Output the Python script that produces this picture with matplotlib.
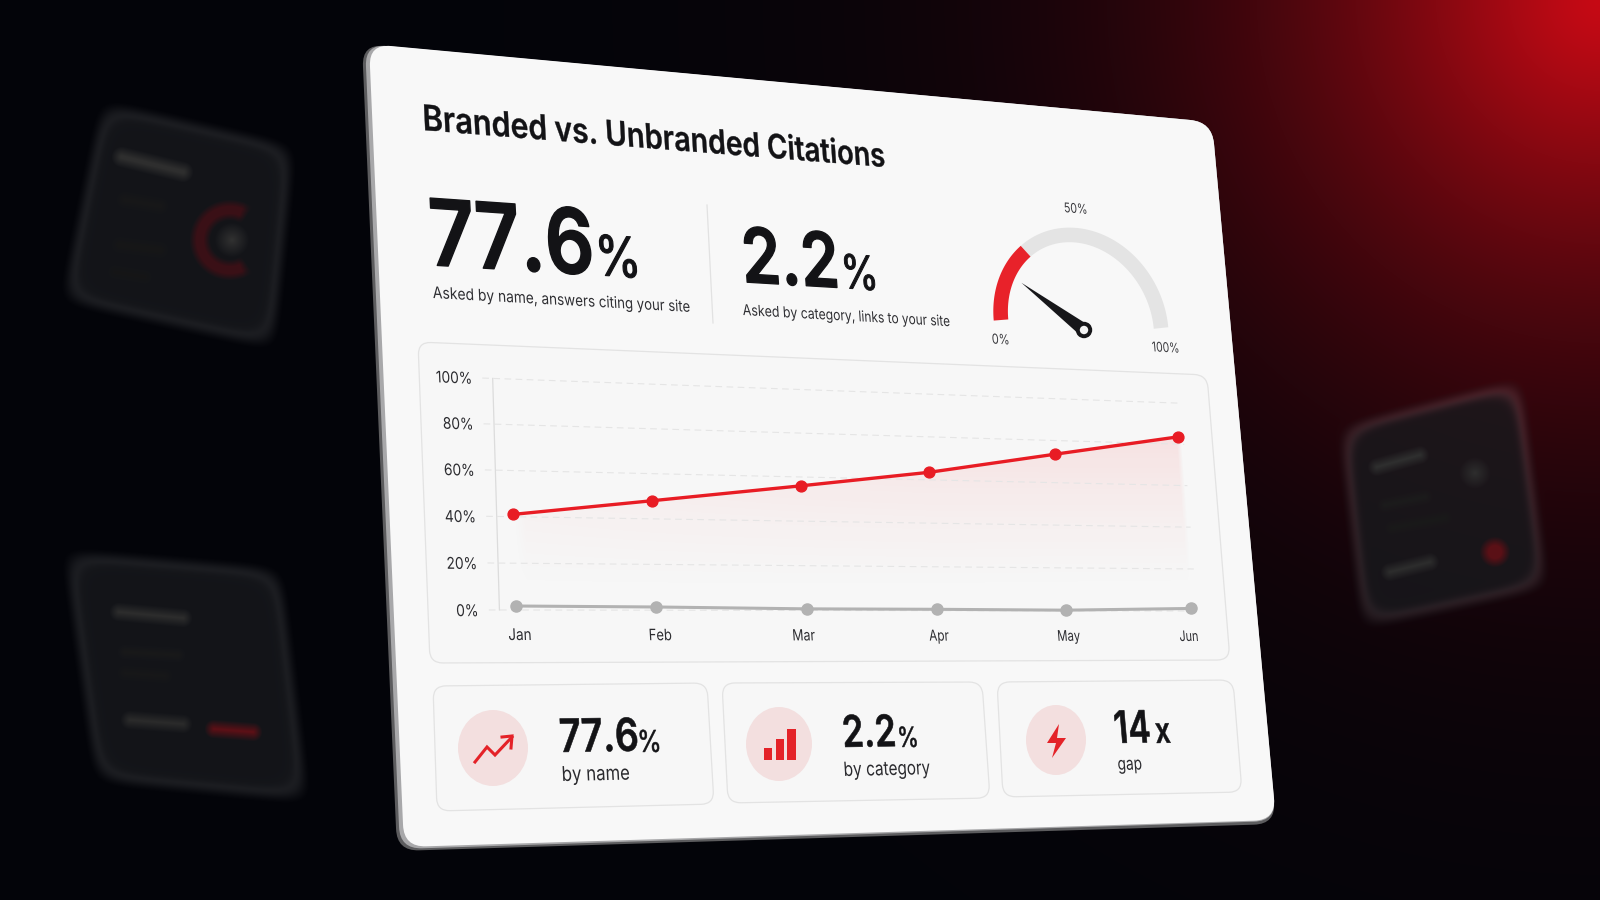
import numpy as np
import matplotlib
matplotlib.use("Agg")
from matplotlib import pyplot as plt
from matplotlib.path import Path
from matplotlib.patches import PathPatch, Ellipse, Circle, Polygon
from matplotlib.transforms import Transform, IdentityTransform
import matplotlib.patheffects as pe

plt.rcParams['font.family'] = ['Inter', 'DejaVu Sans']

# chart values
months = ['Jan', 'Feb', 'Mar', 'Apr', 'May', 'Jun']
month_x = [0, 0.955, 2.03, 2.995, 3.99, 5.0]
label_x = [0.015, 0.97, 1.99, 2.995, 4.0, 4.97]
branded = [41, 48, 56, 63.5, 73.5, 83.5]
unbranded = [1.7, 1.4, 0.7, 0.6, 0.3, 1.2]
y_ticks = [0, 20, 40, 60, 80, 100]
y_labels = ['0%', '20%', '40%', '60%', '80%', '100%']
gauge_fill = 29
needle_value = 19
gauge_ticks = ['0%', '50%', '100%']

W, H = 1600, 900
RED = '#e81c24'
INK = '#131316'


def homography(src, dst):
    a, b = [], []
    for (x, y), (u, v) in zip(src, dst):
        a.append([x, y, 1, 0, 0, 0, -u * x, -u * y])
        a.append([0, 0, 0, x, y, 1, -v * x, -v * y])
        b += [u, v]
    h = np.linalg.solve(np.array(a, float), np.array(b, float))
    return np.append(h, 1).reshape(3, 3)


def apply_h(h, xy):
    xy = np.asarray(xy, float).reshape(-1, 2)
    p = np.c_[xy, np.ones(len(xy))] @ h.T
    return p[:, :2] / p[:, 2:]


def disp(pts):
    return [(x, H - y) for x, y in pts]


class Warp(Transform):
    input_dims = 2
    output_dims = 2
    is_separable = False
    has_inverse = False

    def __init__(self, h):
        super().__init__()
        self.h = h

    def transform_non_affine(self, values):
        return apply_h(self.h, values)


class WarpText(pe.AbstractPathEffect):
    # glyphs are real text laid out flat on the card, then pushed through the card perspective
    def __init__(self, h, stroke=0.0):
        super().__init__()
        self.h = h
        self.stroke = stroke

    def draw_path(self, renderer, gc, tpath, affine, rgbFace=None):
        if len(tpath.vertices) == 0:
            return
        verts = apply_h(self.h, affine.transform(tpath.vertices))
        gc0 = renderer.new_gc()
        gc0.copy_properties(gc)
        if self.stroke > 0 and rgbFace is not None:
            gc0.set_linewidth(self.stroke)
            gc0.set_foreground(rgbFace)
        renderer.draw_path(gc0, Path(verts, tpath.codes), IdentityTransform(), rgbFace)
        gc0.restore()


# ---------- background ----------
yy, xx = np.mgrid[0:H, 0:W] + 0.5


def smooth_quad_dist(pts, k=0.09):
    # smooth inside distance of a convex quad, corners come out rounded
    pts = np.array(pts, float)
    ds = []
    for i in range(4):
        p, q = pts[i], pts[(i + 1) % 4]
        e = (q - p) / np.hypot(*(q - p))
        ds.append((xx - p[0]) * (-e[1]) + (yy - p[1]) * e[0])
    ds = np.clip(np.array(ds), -60, 400)
    return -np.log(np.sum(np.exp(-k * ds), axis=0)) / k


def capsule(p, q, r, soft=9.0):
    p, q = np.array(p, float), np.array(q, float)
    e = q - p
    t = np.clip(((xx - p[0]) * e[0] + (yy - p[1]) * e[1]) / max((e ** 2).sum(), 1e-6), 0, 1)
    d = np.hypot(xx - p[0] - t * e[0], yy - p[1] - t * e[1])
    return np.clip((r - d) / soft + 0.5, 0, 1)


def over(img, mask, color, alpha=1.0):
    return img + (mask * alpha)[..., None] * (np.array(color, float) - img)


d_glow = np.hypot(xx - 1600, yy)
glow = np.exp(-(d_glow / 320) ** 1.35)[..., None]
bg = np.array([3, 4, 9], float) + glow * np.array([195, 6, 12], float)

ghosts = [
    dict(quad=[(103, 103), (293, 147), (273, 347), (63, 300)],
         bars=[((122, 157), (183, 172), 6, 46), ((125, 200), (160, 206), 4, 24),
               ((120, 245), (160, 250), 4, 23), ((115, 272), (145, 277), 3, 22)],
         dots=[((232, 240), 9, 38)], red=[]),
    dict(quad=[(65, 552), (280, 570), (307, 800), (97, 780)],
         bars=[((119, 612), (183, 618), 5, 44), ((125, 652), (178, 655), 3, 26),
               ((125, 673), (165, 676), 3, 24), ((130, 720), (183, 724), 5, 42)],
         dots=[], red=[((214, 729), (253, 732), 5)]),
    dict(quad=[(1340, 427), (1520, 380), (1547, 587), (1363, 627)],
         bars=[((1377, 467), (1420, 455), 5, 46), ((1385, 505), (1425, 497), 4, 28),
               ((1392, 528), (1445, 518), 4, 26), ((1390, 572), (1430, 562), 5, 44)],
         dots=[((1475, 473), 8, 36)], red=[((1495, 552), (1495, 552), 11)]),
]
for g in ghosts:
    d = smooth_quad_dist(g['quad'])
    inside = np.clip(d / 12 + 0.5, 0, 1)
    panel = np.array([19, 20, 23.0]) + 0.22 * bg
    bg = bg + inside[..., None] * (panel - bg)
    rim = np.exp(-((d - 4) / 5.5) ** 2)[..., None]
    bg = bg + rim * (np.array([9, 9, 9.0]) + 1.6 * glow * np.array([60, 10, 15.0]))
    for p, q, r, lum in g['bars']:
        bg = over(bg, capsule(p, q, r), (lum, lum, lum))
    for c, r, lum in g['dots']:
        bg = over(bg, capsule(c, c, r, soft=16), (lum + 10, lum + 10, lum + 10))
    for p, q, r in g['red']:
        bg = over(bg, capsule(p, q, r), (90, 16, 22))

# red ring of the left ghost
rr = np.hypot(xx - 230, yy - 240)
ang = np.degrees(np.arctan2(yy - 240, xx - 230))
ring = np.clip((7 - np.abs(rr - 30)) / 7 + 0.5, 0, 1) * np.clip((np.abs(ang) - 55) / 14, 0, 1)
bg = over(bg, ring, (58, 16, 22))

fig = plt.figure(figsize=(W / 100, H / 100), dpi=100)
ax = fig.add_axes([0, 0, 1, 1])
ax.imshow(np.clip(bg, 0, 255).astype(np.uint8), extent=(0, W, H, 0), aspect='auto',
          interpolation='bilinear', zorder=0)
ax.set_xlim(0, W)
ax.set_ylim(H, 0)
ax.axis('off')


# ---------- card ----------
def rquad(pts, r):
    pts = np.array(pts, float)
    v, c = [], []
    for i in range(4):
        p0, p1, p2 = pts[i - 1], pts[i], pts[(i + 1) % 4]
        a = p1 + (p0 - p1) / np.hypot(*(p0 - p1)) * r
        b = p1 + (p2 - p1) / np.hypot(*(p2 - p1)) * r
        v += [a, p1, b]
        c += [Path.LINETO if i else Path.MOVETO, Path.CURVE3, Path.CURVE3]
    v.append(v[0])
    c.append(Path.CLOSEPOLY)
    return Path(v, c)


face = [(369, 44), (1212, 122), (1276, 820), (404, 847)]
side_out = [(362, 44), (1212, 122), (1276, 824), (397, 851)]
side_in = [(365, 44), (1212, 122), (1276, 821), (400, 849)]
ax.add_patch(PathPatch(rquad(side_out, 22), fc='#5c5c5e', ec='none', zorder=2))
ax.add_patch(PathPatch(rquad(side_in, 22), fc='#a8a8aa', ec='none', zorder=2.1))
ax.add_patch(PathPatch(rquad(face, 22), fc='#f8f8f8', ec='none', zorder=2.2))

flat_rect = [(370, 45), (1470, 45), (1470, 820), (370, 820)]
H_card = homography(disp(flat_rect), disp(face))
H_card_inv = np.linalg.inv(H_card)


def card_text(px, py, s, size, weight='normal', color=INK, ha='left', va='baseline', stroke=0.0):
    (u, v), = apply_h(H_card_inv, [(px, H - py)])
    ax.text(u, H - v, s, fontsize=size * 0.72, fontweight=weight, color=color, ha=ha, va=va,
            path_effects=[WarpText(H_card, stroke)], zorder=6, clip_on=False)


panels = [
    [(418, 342), (1207, 375), (1230, 660), (430, 663)],
    [(433, 686), (707, 683), (714, 804), (437, 811)],
    [(722, 683), (982, 682), (990, 798), (728, 803)],
    [(997, 682), (1233, 680), (1242, 792), (1003, 797)],
]
for q in panels:
    ax.add_patch(PathPatch(rquad(q, 13), fc='#f7f7f7', ec='#e3e3e3', lw=0.9, zorder=3))

# title and headline numbers
card_text(423, 130, 'Branded vs. Unbranded Citations', 35.8, weight='semibold', stroke=0.25)
card_text(430, 265, '77.6', 92, weight='semibold', stroke=1.0)
card_text(596, 275, '%', 57, stroke=0.8)
card_text(433, 298, 'Asked by name, answers citing your site', 16, color='#2f2f33')
ax.plot([707, 713], [205, 323], color='#e2e2e2', lw=0.9, zorder=4)
card_text(743, 282, '2.2', 80, weight='semibold', stroke=0.9)
card_text(842, 288, '%', 50, stroke=0.7)
card_text(743, 315, 'Asked by category, links to your site', 15.7, color='#2f2f33')

# ---------- gauge ----------
g_c = np.array([1081.0, 324.0])
g_a = np.array([80.0, 4.0])
g_b = np.array([-8.0, -89.0])


def gauge_pt(v, scale=1.0):
    t = np.pi * (1 - np.asarray(v, float) / 100)
    return np.outer(np.cos(t), g_a) * scale + np.outer(np.sin(t), g_b) * scale + g_c


track = gauge_pt(np.linspace(gauge_fill, 100, 80))
fill = gauge_pt(np.linspace(0, gauge_fill, 40))
ax.plot(track[:, 0], track[:, 1], color='#e4e4e4', lw=10.5, solid_capstyle='butt', zorder=4)
ax.plot(fill[:, 0], fill[:, 1], color='#e8222a', lw=10.5, solid_capstyle='butt', zorder=4.1)
pivot = np.array([1084.0, 330.0])
tip = pivot + (gauge_pt([needle_value], 0.885)[0] - g_c)
n = (tip - pivot) / np.hypot(*(tip - pivot))
perp = np.array([-n[1], n[0]])
ax.add_patch(Polygon([tip, pivot + perp * 6.5, pivot - perp * 6.5], fc='#17171a', ec='none', zorder=4.5))
ax.add_patch(Circle(pivot, 8.2, fc='#17171a', ec='none', zorder=4.6))
ax.add_patch(Circle(pivot, 4.2, fc='#f4f4f4', ec='none', zorder=4.7))
for lab, (lx, ly) in zip(gauge_ticks, [(1001, 344), (1076, 213), (1166, 352)]):
    card_text(lx, ly, lab, 15, color='#3a3a3e', ha='center')

# ---------- line chart ----------
ax2 = fig.add_axes([0, 0, 1, 1], frameon=False)
ax2.set_autoscale_on(False)
ax2.set_xlim(0, 5)
ax2.set_ylim(0, 100)
ax2.axis('off')
plot_corners = [(509, 379), (1175, 403), (1191, 611), (516, 610)]
unit_src = [(0, H), (W, H), (W, 0), (0, 0)]
H_plot = homography(unit_src, disp(plot_corners))
warp = Warp(H_plot)
tr = ax2.transData + warp


def chart_xy(x, y):
    d = ax2.transData.transform([(x, y)])
    p = apply_h(H_plot, d)[0]
    return p[0], H - p[1]


for t, lab in zip(y_ticks, y_labels):
    ax2.plot([-0.18, 5.05], [t, t], transform=tr, color='#e5e5e5', lw=0.8, ls=(0, (6, 4)), clip_on=False, zorder=1)
    lx, ly = chart_xy(-0.25, t)
    card_text(lx, ly, lab, 15.6, color='#2c2c30', ha='right', va='center_baseline')
ax2.plot([-0.11, -0.11], [0, 100], transform=tr, color='#dcdcdc', lw=0.9, clip_on=False, zorder=1)

# pink fade under the red line: every picture pixel is mapped back to chart values
back = apply_h(np.linalg.inv(H_plot), np.c_[xx.ravel(), H - yy.ravel()])
back = ax2.transData.inverted().transform(back)
gx = back[:, 0].reshape(H, W)
gy = back[:, 1].reshape(H, W)
line_y = np.interp(gx, month_x, branded)
frac = np.clip(gy / line_y, 0, 1)
fade = np.clip((frac - 0.1) / 0.9, 0, 1) ** 1.3
edge = np.clip((gx - month_x[0]) * 12, 0, 1) * np.clip((month_x[-1] + 0.03 - gx) * 25, 0, 1)
top_edge = np.clip((line_y - gy) * 2, 0, 1)
pink = np.zeros((H, W, 4))
pink[..., :3] = matplotlib.colors.to_rgb('#f02020')
pink[..., 3] = fade * edge * top_edge * (0.025 + 0.075 * np.clip(gx / 5, 0, 1))
ax.imshow(pink, extent=(0, W, H, 0), aspect='auto', interpolation='bilinear', zorder=3.5)
ax.set_xlim(0, W)
ax.set_ylim(H, 0)

ax2.plot(month_x, unbranded, transform=tr, color='#b2b2b2', lw=2.2, marker='o', ms=8,
         clip_on=False, zorder=3)
ax2.plot(month_x, branded, transform=tr, color=RED, lw=2.4, marker='o', ms=7.8,
         clip_on=False, zorder=4)

for m, x in zip(months, label_x):
    lx, ly = chart_xy(x, 0)
    card_text(lx + 2, ly + 30, m, 15.5, color='#2c2c30', ha='center')

# ---------- bottom stat tiles ----------
for c, rx, ry in [((493, 748), 35, 38), ((779, 744), 33, 37), ((1056, 740), 30, 35)]:
    ax.add_patch(Ellipse(c, 2 * rx, 2 * ry, fc='#f3dfdf', ec='none', zorder=4))

ax.plot([475, 487, 495, 512], [762, 747, 755, 737], color='#e42228', lw=2.2, zorder=5, solid_joinstyle='miter')
ax.plot([502, 512, 511], [737, 736, 748], color='#e42228', lw=2.2, zorder=5, solid_joinstyle='miter')
for x0, x1, y0 in [(764, 772, 748), (776, 784, 739), (787, 796, 729)]:
    ax.add_patch(Polygon([(x0, y0), (x1, y0), (x1, 760), (x0, 760)], fc='#e42228', ec='none', zorder=5))
ax.add_patch(Polygon([(1059, 724), (1047, 743), (1056, 743), (1052, 758), (1066, 738), (1057, 738)],
                     fc='#e42228', ec='none', zorder=5))

card_text(560, 752, '77.6', 44, weight='semibold', stroke=0.4)
card_text(638, 752, '%', 29, stroke=0.4)
card_text(562, 781, 'by name', 19.5, color='#2a2a2e')
card_text(843, 747, '2.2', 44, weight='semibold', stroke=0.4)
card_text(898, 747, '%', 28, stroke=0.4)
card_text(844, 776, 'by category', 19.6, color='#2a2a2e')
card_text(1115, 743, '14', 47, weight='semibold', stroke=0.4)
card_text(1156, 743, 'x', 38, weight='semibold', stroke=0.3)
card_text(1118, 770, 'gap', 19, color='#2a2a2e')

fig.savefig('out.png', dpi=100)
